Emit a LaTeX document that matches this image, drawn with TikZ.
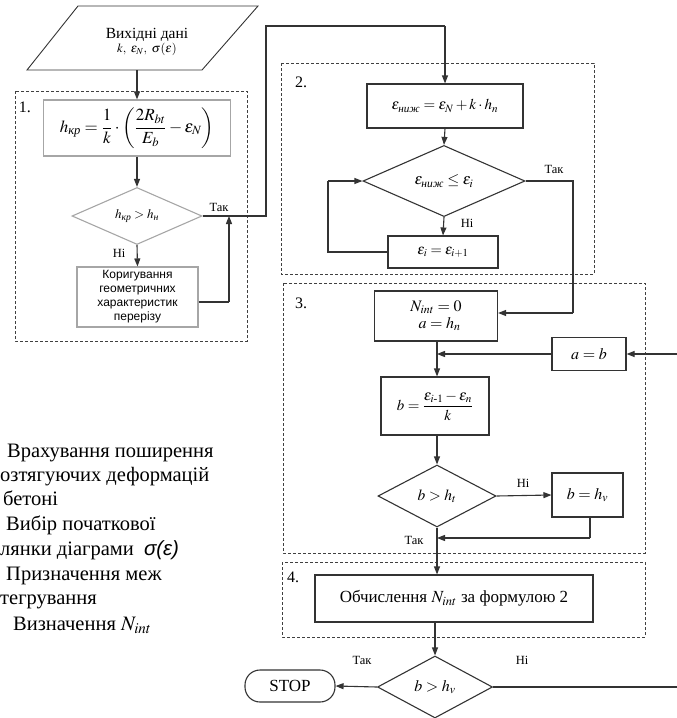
\documentclass[tikz,border=0pt]{standalone}
\usepackage{amsmath}
\usepackage{mathptmx}
\usepackage{fontspec}
\setmainfont{Liberation Serif}
\setsansfont{Liberation Sans}
\usetikzlibrary{shapes.geometric,arrows.meta}

\begin{document}
\begin{tikzpicture}[x=1pt,y=-1pt,
  line/.style={draw=black!80, line width=1.1pt},
  arr/.style={line, -{Triangle[length=8pt,width=6pt]}},
  box/.style={draw=black!80, line width=1.1pt, rectangle, inner sep=1pt, align=center, font=\fontsize{15}{17}\selectfont},
  gbox/.style={box, draw=black!35},
  dia/.style={diamond, draw=black!80, line width=1.1pt, inner sep=0pt, font=\fontsize{15.5}{17}\selectfont},
  gdia/.style={dia, draw=black!35},
  frame/.style={draw=black!75, line width=1pt, dash pattern=on 3pt off 2pt},
  lbl/.style={font=\fontsize{12.5}{14}\selectfont, inner sep=1pt},
  num/.style={font=\fontsize{16}{17}\selectfont, inner sep=0pt},
  leg/.style={anchor=base west, inner sep=0pt, font=\fontsize{20.5}{24}\selectfont}
]
\useasboundingbox (0,0) rectangle (677,718);

% dashed group frames
\draw[frame] (15,91) rectangle (247,341);
\draw[frame] (281,63) rectangle (594,274);
\draw[frame] (283,283) rectangle (645,553);
\draw[frame] (282,562) rectangle (645,637);
\node[num] (n1) at (25,107) {1.};
\node[num] (n2) at (301,82) {2.};
\node[num] (n3l) at (301,303) {3.};
\node[num] (n4) at (293,577) {4.};

% input parallelogram
\draw[line, line width=0.9pt] (78,6) -- (258,6) -- (202,70) -- (27,70) -- cycle;
\node[align=center, inner sep=0pt] (inp) at (147,42) {{\fontsize{15.5}{17}\selectfont Вихідні дані}\\[1pt]{\fontsize{12.5}{14}\selectfont $k,\ \varepsilon_N,\ \sigma(\varepsilon)$}};
\coordinate (inb) at (137,70);

% block 1
\node[gbox, minimum width=187pt, minimum height=56pt, font=\fontsize{17}{18}\selectfont] (f1) at (137,128)
  {$h_{\textit{кр}}=\dfrac{1}{k}\cdot\left(\dfrac{2R_{bt}}{E_b}-\varepsilon_N\right)$};
\node[gdia, minimum width=130pt, minimum height=57pt, font=\fontsize{13}{15}\selectfont] (d1) at (137,216) {$h_{\textit{кр}}>h_{\textit{н}}$};
\node[gbox, minimum width=121pt, minimum height=60pt, font=\sffamily\fontsize{12}{14}\selectfont] (c1) at (137.5,297)
  {Коригування\\геометричних\\характеристик\\перерізу};
\coordinate (t1a) at (266,216);
\coordinate (t1b) at (266,26);
\coordinate (c1r) at (229,302);
\coordinate (c1j) at (229,216);

\draw[arr] (inb) -- (f1.north);
\draw[arr] (f1.south) -- (d1.north);
\draw[arr] (d1.south) -- (c1.north);
\draw[line] (c1.east |- c1r) -- (c1r);
\draw[arr] (c1r) -- (c1j);
\node[lbl] (lt1) at (219,207) {Так};
\node[lbl] (ln1) at (119,253) {Ні};

% block 2
\node[box, minimum width=156pt, minimum height=44pt] (f2) at (445,106)
  {$\varepsilon_{\textit{ниж}}=\varepsilon_N+k\cdot h_n$};
\node[dia, minimum width=162pt, minimum height=64pt] (d2) at (444,181)
  {$\varepsilon_{\textit{ниж}}\le\varepsilon_i$};
\node[box, minimum width=110pt, minimum height=32pt, font=\fontsize{14.5}{16}\selectfont] (e2) at (443,252) {$\varepsilon_i=\varepsilon_{i+1}$};
\draw[line] (d1.east) -- (t1a) -- (t1b) -- (t1b -| f2.north);
\draw[arr] (t1b -| f2.north) -- (f2.north);
\draw[arr] (f2.south) -- (d2.north);
\draw[arr] (d2.south) -- (e2.north);
\coordinate (lpa) at (328,252);
\coordinate (lpb) at (328,181);
\draw[line] (e2.west) -- (lpa) -- (lpb);
\draw[arr] (lpb) -- (d2.west);
\node[lbl] (lt2) at (554,169) {Так};
\node[lbl] (ln2) at (467,223) {Ні};

% block 3
\node[box, minimum width=123pt, minimum height=50pt, font=\fontsize{16}{17}\selectfont] (n3) at (436,316)
  {$N_{int}=0$\\$\;\;a=h_n$};
\node[box, minimum width=74pt, minimum height=33pt, font=\fontsize{16}{17}\selectfont] (ab) at (589,354) {$a=b$};
\node[box, minimum width=108pt, minimum height=58pt, font=\fontsize{15}{17}\selectfont] (b3) at (435,406)
  {$b=\dfrac{\varepsilon_{i\text{-}1}-\varepsilon_n}{k}$};
\node[dia, minimum width=118pt, minimum height=62pt] (d3) at (437,496) {$b>h_t$};
\node[box, minimum width=71pt, minimum height=44pt, font=\fontsize{16}{17}\selectfont] (bh) at (587.5,495) {$b=h_v$};
\coordinate (tkr) at (573,181);
\coordinate (tkd) at (573,313);
\draw[line] (d2.east) -- (tkr) -- (tkd);
\draw[arr] (tkd) -- (n3.east |- tkd);
\coordinate (j1) at (437,354);
\coordinate (redge1) at (677,354);
\draw[arr] (redge1) -- (ab.east);
\draw[arr] (ab.west) -- (j1);
\draw[arr] (n3.south -| j1) -- (b3.north -| j1);
\draw[arr] (b3.south -| j1) -- (d3.north);
\draw[arr] (d3.east) -- (bh.west);
\coordinate (bhd) at (590,538);
\coordinate (j2) at (437,538);
\draw[line] (bh.south -| bhd) -- (bhd);
\draw[arr] (bhd) -- (j2);
\node[lbl] (ln3) at (523,483) {Ні};
\node[lbl] (lt3) at (414,540) {Так};

% block 4
\node[box, minimum width=278pt, minimum height=47pt, font=\fontsize{17}{19}\selectfont] (f4) at (454,598.5) {Обчислення $N_{int}$ за формулою 2};
\draw[arr] (d3.south) -- (d3.south |- f4.north);
\node[dia, minimum width=115pt, minimum height=62pt, font=\fontsize{16}{17}\selectfont] (d5) at (435,687) {$b>h_v$};
\draw[arr] (f4.south -| d5.north) -- (d5.north);
\node[draw=black!80, line width=1.1pt, rounded corners=15pt, minimum width=90pt, minimum height=32pt, font=\fontsize{17}{19}\selectfont] (stop) at (290,686) {STOP};
\draw[arr] (d5.west) -- (stop.east);
\coordinate (redge2) at (677,687);
\draw[line] (d5.east) -- (redge2);
\node[lbl] (lt5) at (362,660) {Так};
\node[lbl] (ln5) at (522,660) {Ні};

% legend
\node[leg] (g1) at (7,457) {Врахування поширення};
\node[leg] (g2) at (0,481) {озтягуючих деформацій};
\node[leg] (g3) at (3,505) {бетоні};
\node[leg] (g4) at (6,530) {Вибір початкової};
\node[leg] (g5) at (0,555) {лянки діаграми \ {\sffamily\itshape σ(ε)}};
\node[leg] (g6) at (6,580) {Призначення меж};
\node[leg] (g7) at (0,604) {тегрування};
\node[leg] (g8) at (13,630) {Визначення $N_{int}$};
\end{tikzpicture}
\end{document}
